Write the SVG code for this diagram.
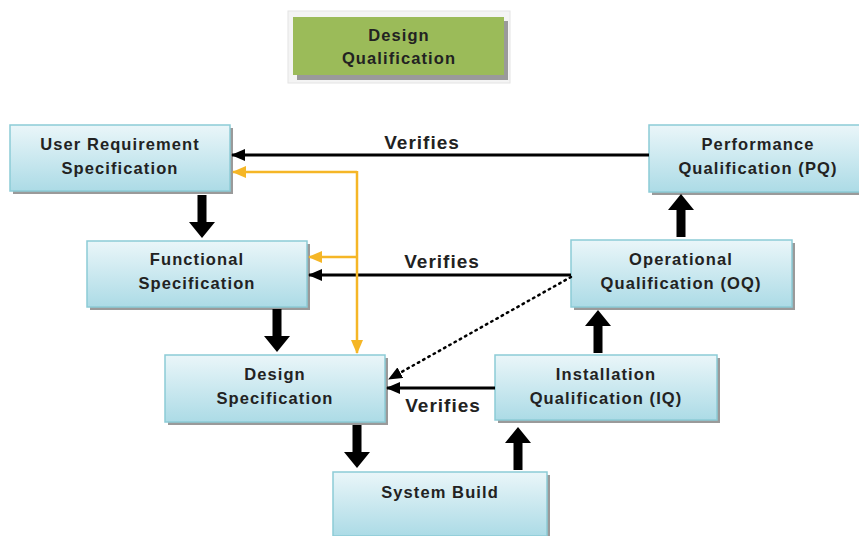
<svg xmlns="http://www.w3.org/2000/svg" width="859" height="536" viewBox="0 0 859 536">
<defs>
<linearGradient id="boxg" x1="0" y1="0" x2="0" y2="1">
<stop offset="0" stop-color="#eaf6f9"/>
<stop offset="1" stop-color="#acdbe6"/>
</linearGradient>
<marker id="ah" markerWidth="14" markerHeight="12" refX="13" refY="6" orient="auto" markerUnits="userSpaceOnUse">
<path d="M0,0 L14,6 L0,12 Z" fill="#000"/>
</marker>
<marker id="ahy" markerWidth="14" markerHeight="12" refX="13" refY="6" orient="auto" markerUnits="userSpaceOnUse">
<path d="M0,0 L14,6 L0,12 Z" fill="#f5b626"/>
</marker>
<path id="blk" d="M-4.5,0 L4.5,0 L4.5,27 L13,27 L0,43 L-13,27 L-4.5,27 Z"/>
</defs>
<style>
.box{fill:url(#boxg);stroke:#8ccbd6;stroke-width:1.5}
.sh{fill:#9a9a9a}
.t{font-family:"Liberation Sans",Arial,sans-serif;font-weight:bold;font-size:16.5px;letter-spacing:1.1px;fill:#222;text-anchor:middle}
.v{font-family:"Liberation Sans",Arial,sans-serif;font-weight:bold;font-size:19px;letter-spacing:1px;fill:#222;text-anchor:middle}
.ln{stroke:#000;stroke-width:3;fill:none}
.yl{stroke:#f5b626;stroke-width:2.5;fill:none}
</style>
<rect width="859" height="536" fill="#fff"/>

<g id="dq">
<rect x="288" y="11" width="222" height="72" fill="#f4f4f4" stroke="#e4e4e4"/>
<rect x="297" y="21" width="211" height="59" class="sh"/>
<rect x="293" y="17" width="211" height="58" fill="#9bbb59"/>
<text x="399" y="41" class="t">Design</text>
<text x="399" y="64" class="t">Qualification</text>
</g>

<g id="urs">
<rect x="13" y="128" width="220" height="66" class="sh"/>
<rect x="10" y="125" width="220" height="66" class="box"/>
<text x="120" y="150" class="t">User Requirement</text>
<text x="120" y="174" class="t">Specification</text>
</g>

<g id="fs">
<rect x="90" y="244" width="220" height="66" class="sh"/>
<rect x="87" y="241" width="220" height="66" class="box"/>
<text x="197" y="265" class="t">Functional</text>
<text x="197" y="289" class="t">Specification</text>
</g>

<g id="ds">
<rect x="168" y="358" width="220" height="67" class="sh"/>
<rect x="165" y="355" width="220" height="67" class="box"/>
<text x="275" y="380" class="t">Design</text>
<text x="275" y="404" class="t">Specification</text>
</g>

<g id="sb">
<rect x="336" y="475" width="214" height="64" class="sh"/>
<rect x="333" y="472" width="214" height="64" class="box"/>
<text x="440" y="498" class="t">System Build</text>
</g>

<g id="iq">
<rect x="498" y="358" width="222" height="65" class="sh"/>
<rect x="495" y="355" width="222" height="65" class="box"/>
<text x="606" y="380" class="t">Installation</text>
<text x="606" y="404" class="t">Qualification (IQ)</text>
</g>

<g id="oq">
<rect x="574" y="243" width="221" height="67" class="sh"/>
<rect x="571" y="240" width="221" height="67" class="box"/>
<text x="681" y="265" class="t">Operational</text>
<text x="681" y="289" class="t">Qualification (OQ)</text>
</g>

<g id="pq">
<rect x="652" y="128" width="212" height="67" class="sh"/>
<rect x="649" y="125" width="212" height="67" class="box"/>
<text x="758" y="150" class="t">Performance</text>
<text x="758" y="174" class="t">Qualification (PQ)</text>
</g>

<g id="connectors">
<line x1="649" y1="155" x2="232" y2="155" class="ln" marker-end="url(#ah)"/>
<line x1="571" y1="275" x2="309" y2="275" class="ln" marker-end="url(#ah)"/>
<line x1="495" y1="388" x2="387" y2="388" class="ln" marker-end="url(#ah)"/>
<line x1="571" y1="277" x2="389" y2="379" stroke="#000" stroke-width="2.5" stroke-dasharray="1.5,4.5" stroke-linecap="round" marker-end="url(#ah)"/>
<polyline points="357,172 233,172" class="yl" marker-end="url(#ahy)"/>
<line x1="357" y1="171" x2="357" y2="353" class="yl" marker-end="url(#ahy)"/>
<line x1="357" y1="257" x2="309" y2="257" class="yl" marker-end="url(#ahy)"/>
<use href="#blk" transform="translate(202,195)"/>
<use href="#blk" transform="translate(277,309)"/>
<use href="#blk" transform="translate(357,425)"/>
<use href="#blk" transform="translate(518,470) scale(1,-1)"/>
<use href="#blk" transform="translate(598,353) scale(1,-1)"/>
<use href="#blk" transform="translate(681,237) scale(1,-1)"/>
<text x="422" y="149" class="v">Verifies</text>
<text x="442" y="268" class="v">Verifies</text>
<text x="443" y="412" class="v">Verifies</text>
</g>
</svg>
